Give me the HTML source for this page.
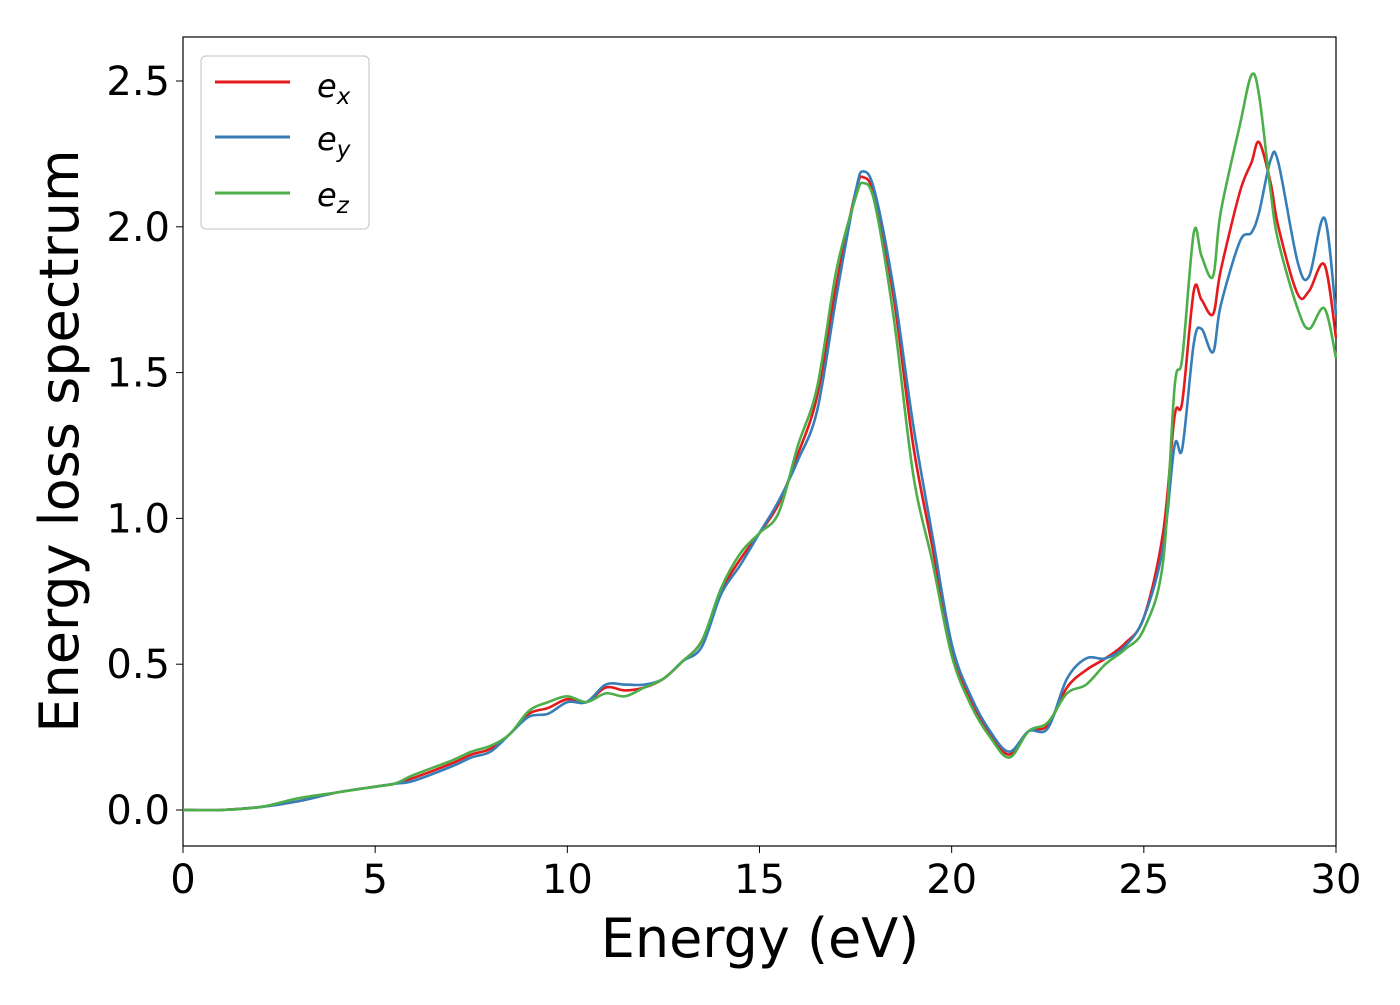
<!DOCTYPE html>
<html><head><meta charset="utf-8"><style>
body{margin:0;background:#fff;}
svg text{font-family:"DejaVu Sans","Liberation Sans",sans-serif;}
</style></head><body>
<svg id="chart" width="1400" height="1000" xmlns="http://www.w3.org/2000/svg">
<rect x="183" y="37" width="1153" height="809" fill="#fff" stroke="#000" stroke-width="1.2"/>
<g id="ticks"></g>
<g id="lines"></g>
<text x="760" y="957" font-size="54" text-anchor="middle">Energy (eV)</text>
<text transform="translate(78,441) rotate(-90)" font-size="54" text-anchor="middle">Energy loss spectrum</text>
<g>
<rect x="201" y="56" width="168" height="173" rx="5" fill="#fff" stroke="#ccc" stroke-width="1.2"/>
<g><line x1="215" y1="82" x2="290" y2="82" stroke="#e41a1c" stroke-width="3"/><text x="317" y="97" font-size="32" font-style="italic">e<tspan font-size="23" dy="7">x</tspan></text></g>
<g><line x1="215" y1="137" x2="290" y2="137" stroke="#377eb8" stroke-width="3"/><text x="317" y="150" font-size="32" font-style="italic">e<tspan font-size="23" dy="7">y</tspan></text></g>
<g><line x1="215" y1="193" x2="290" y2="193" stroke="#4daf4a" stroke-width="3"/><text x="317" y="206" font-size="32" font-style="italic">e<tspan font-size="23" dy="7">z</tspan></text></g>
</g>
</svg>
<script>
const energies=[0,1,2,3,4,5,5.5,6,7,7.5,8,8.5,9,9.5,10,10.5,11,11.5,12,12.5,13,13.5,14,14.5,15,15.5,16,16.5,17,17.5,17.7,18,18.5,19,19.5,20,20.5,21,21.5,22,22.5,23,23.5,24,24.5,25,25.5,25.8,26,26.3,26.5,26.8,27,27.5,27.8,28,28.3,28.5,29,29.3,29.7,30];
const ex=[0,0,0.01,0.03,0.06,0.08,0.09,0.11,0.16,0.19,0.21,0.26,0.33,0.35,0.38,0.37,0.42,0.41,0.42,0.45,0.51,0.58,0.75,0.86,0.95,1.05,1.22,1.42,1.80,2.12,2.17,2.10,1.75,1.25,0.90,0.55,0.38,0.26,0.19,0.27,0.29,0.42,0.48,0.52,0.57,0.66,0.95,1.35,1.40,1.78,1.75,1.70,1.85,2.12,2.22,2.29,2.15,2.00,1.77,1.78,1.87,1.62];
const ey=[0,0,0.01,0.03,0.06,0.08,0.09,0.10,0.15,0.18,0.20,0.26,0.32,0.33,0.37,0.37,0.43,0.43,0.43,0.45,0.51,0.56,0.74,0.84,0.95,1.06,1.20,1.37,1.76,2.12,2.19,2.12,1.78,1.32,0.94,0.57,0.39,0.27,0.20,0.27,0.28,0.45,0.52,0.52,0.56,0.66,0.90,1.25,1.24,1.60,1.65,1.57,1.73,1.95,1.98,2.05,2.23,2.22,1.88,1.83,2.03,1.70];
const ez=[0,0,0.01,0.04,0.06,0.08,0.09,0.12,0.17,0.20,0.22,0.26,0.34,0.37,0.39,0.37,0.40,0.39,0.42,0.45,0.51,0.58,0.76,0.88,0.95,1.02,1.25,1.45,1.85,2.10,2.15,2.08,1.68,1.15,0.85,0.53,0.36,0.25,0.18,0.27,0.30,0.40,0.43,0.50,0.55,0.62,0.85,1.45,1.55,1.98,1.90,1.83,2.05,2.35,2.52,2.45,2.12,1.95,1.72,1.65,1.72,1.55];
const xTicks=[0,5,10,15,20,25,30];
const yTicks=[0.0,0.5,1.0,1.5,2.0,2.5];
const X=v=>183+v*(1153/30);
const Y=v=>810-v*291.6;
const NS="http://www.w3.org/2000/svg";
const tg=document.getElementById('ticks');
xTicks.forEach(t=>{
 const l=document.createElementNS(NS,'line');l.setAttribute('x1',X(t));l.setAttribute('x2',X(t));l.setAttribute('y1',846);l.setAttribute('y2',853);l.setAttribute('stroke','#000');
 
 
 tg.appendChild(l);
 const tx=document.createElementNS(NS,'text');tx.setAttribute('x',X(t));tx.setAttribute('y',893);tx.setAttribute('font-size','40');tx.setAttribute('text-anchor','middle');tx.textContent=t;
 
 
 tg.appendChild(tx);
});
yTicks.forEach(t=>{
 const l=document.createElementNS(NS,'line');l.setAttribute('x1',176);l.setAttribute('x2',183);l.setAttribute('y1',Y(t));l.setAttribute('y2',Y(t));l.setAttribute('stroke','#000');
 
 
 tg.appendChild(l);
 const tx=document.createElementNS(NS,'text');tx.setAttribute('x',170);tx.setAttribute('y',Y(t)+14);tx.setAttribute('font-size','40');tx.setAttribute('text-anchor','end');tx.textContent=t.toFixed(1);
 
 
 tg.appendChild(tx);
});
function pathFor(ys){
 const p=energies.map((e,i)=>[X(e),Y(ys[i])]);
 let d=`M${p[0][0]},${p[0][1]}`;
 for(let i=0;i<p.length-1;i++){
  const p0=p[Math.max(0,i-1)],p1=p[i],p2=p[i+1],p3=p[Math.min(p.length-1,i+2)];
  const c1=[p1[0]+(p2[0]-p0[0])/6,p1[1]+(p2[1]-p0[1])/6];
  const c2=[p2[0]-(p3[0]-p1[0])/6,p2[1]-(p3[1]-p1[1])/6];
  d+=`C${c1[0]},${c1[1]} ${c2[0]},${c2[1]} ${p2[0]},${p2[1]}`;
 }
 return d;
}
const lg=document.getElementById('lines');
[[ex,'#e41a1c','series-ex'],[ey,'#377eb8','series-ey'],[ez,'#4daf4a','series-ez']].forEach(([s,c,n])=>{
 const p=document.createElementNS(NS,'path');p.setAttribute('d',pathFor(s));p.setAttribute('fill','none');p.setAttribute('stroke',c);p.setAttribute('stroke-width','2.6');
 
 
 lg.appendChild(p);
});
</script>
</body></html>
